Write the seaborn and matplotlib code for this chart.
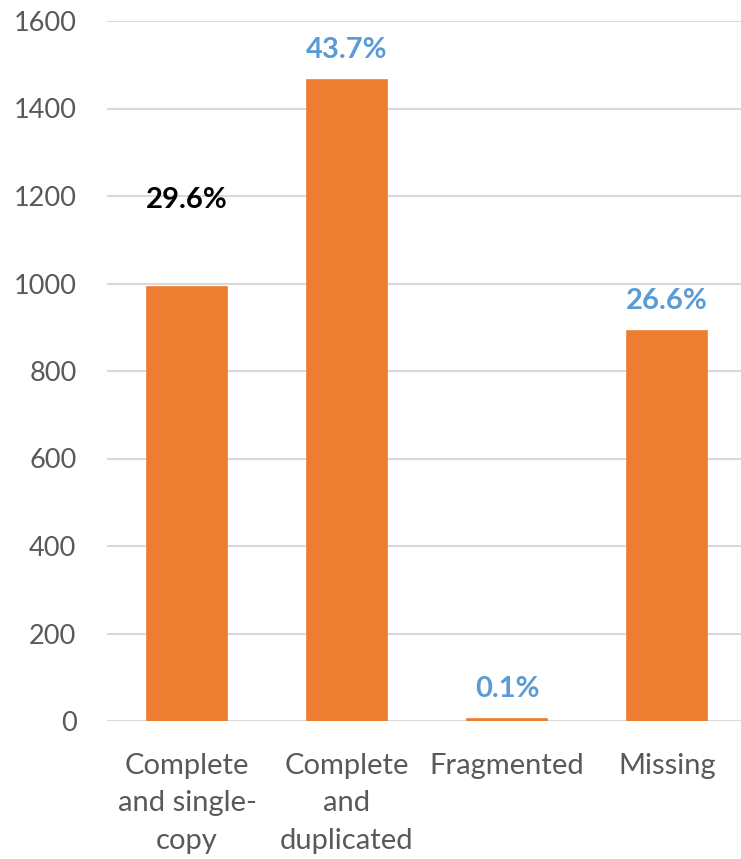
import matplotlib
matplotlib.use("Agg")
import matplotlib.pyplot as plt
import seaborn as sns
import pandas as pd
import matplotlib.patheffects as pe

categories = ["Complete\nand single-\ncopy", "Complete\nand\nduplicated", "Fragmented", "Missing"]
counts = [993, 1466, 5, 892]
pct_labels = ["29.6%", "43.7%", "0.1%", "26.6%"]
label_colors = ["#000000", "#5B9BD5", "#5B9BD5", "#5B9BD5"]
yticks = [0, 200, 400, 600, 800, 1000, 1200, 1400, 1600]

sns.set_theme(style="white")
plt.rcParams['font.family'] = ['Lato', 'DejaVu Sans']

df = pd.DataFrame({"cat": categories, "n": counts})

fig = plt.figure(figsize=(7.41, 8.59), dpi=100)
ax = fig.add_axes([107/741, 138/859, 640/741, 700/859])

sns.barplot(data=df, x="cat", y="n", color="#ED7D31", width=0.5, saturation=1,
            edgecolor="#ED7D31", linewidth=1.2, ax=ax)
for p in ax.patches:
    p.set_zorder(3)
    p.set_path_effects([pe.SimplePatchShadow(offset=(0, 0), shadow_rgbFace="#000000", alpha=0.06), pe.Normal()])

ax.set_ylim(0, 1600)
ax.set_xlim(-0.5, 3.5)
ax.set_yticks(yticks)
ax.yaxis.grid(True, color="#D9D9D9", linewidth=1.5, zorder=0)
ax.set_axisbelow(True)
for s in ax.spines.values():
    s.set_visible(False)
ax.set_xlabel("")
ax.set_ylabel("")
ax.tick_params(axis="y", length=0, labelsize=19.5, labelcolor="#595959", pad=22)
ax.tick_params(axis="x", length=0, labelsize=21, labelcolor="#595959", pad=23)
for t in ax.get_xticklabels():
    t.set_linespacing(1.55)

for i, (v, lab, c) in enumerate(zip(counts, pct_labels, label_colors)):
    if i == 0:
        ax.text(i, 1190, lab, ha="center", va="center", fontsize=21, fontweight="bold", color=c)
    else:
        ax.annotate(lab, (i, v), xytext=(0, 12), textcoords="offset points",
                    ha="center", va="bottom", fontsize=21, fontweight="bold", color=c)

fig.savefig("out.png", dpi=100)
